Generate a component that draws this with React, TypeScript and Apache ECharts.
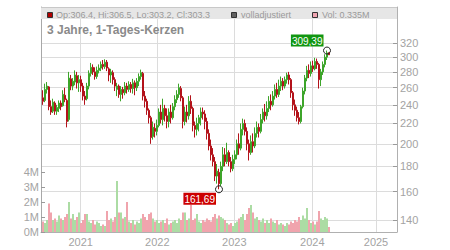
import React, { useEffect, useRef } from 'react';
import * as echarts from 'echarts';

// ---- data (one sampled daily candle every ~6 trading days) ----
const opens = [
  248, 245, 258, 261, 238, 233, 242, 233, 236, 242, 239, 251, 245, 224, 271, 262, 267, 275, 266,
  270, 262, 250, 247, 262, 278, 286, 280, 274, 282, 285, 290, 287, 293, 284, 276, 279, 270, 258, 262,
  252, 258, 254, 262, 258, 264, 259, 266, 260, 268, 274, 278, 250, 244, 234, 226, 207, 215, 212, 218,
  232, 224, 236, 228, 222, 232, 226, 238, 246, 252, 259, 248, 222, 232, 228, 244, 236, 218, 214,
  220, 226, 232, 230, 222, 210, 198, 190, 184, 172, 175, 166, 180, 190, 184, 192, 184, 178, 186, 190,
  200, 196, 214, 220, 212, 200, 192, 202, 198, 210, 216, 212, 224, 232,
  228, 236, 244, 240, 250, 258, 252, 262, 268, 262, 270, 276, 270, 254, 240, 234, 226, 222, 238, 256,
  272, 282, 278, 288, 284, 294, 290, 270, 280, 290, 300, 306.4,
];
const closes = [
  244, 258, 262, 238, 232, 243, 233, 237, 242, 238, 252, 246, 222, 272, 262, 268, 276, 266, 270,
  262, 250, 246, 262, 278, 286, 280, 274, 282, 285, 290, 287, 293, 285, 276, 280, 270, 262, 262, 252,
  258, 254, 262, 258, 264, 259, 266, 260, 268, 274, 279, 250, 244, 234, 226, 206, 216, 212, 218, 232,
  224, 236, 228, 222, 232, 226, 238, 246, 252, 260, 248, 222, 232, 228, 244, 236, 218, 214, 220,
  226, 232, 230, 222, 210, 198, 190, 184, 172, 176, 166, 180, 190, 184, 192, 184, 178, 186, 190, 200,
  196, 214, 220, 212, 200, 192, 202, 198, 210, 216, 212, 224, 232, 228,
  236, 244, 240, 250, 258, 252, 262, 268, 262, 270, 276, 270, 254, 240, 234, 226, 222, 238, 256, 272,
  282, 278, 288, 284, 294, 290, 270, 280, 290, 300, 306, 303.3,
];
const lows = [
  240, 243, 253, 234, 229, 231, 229, 229, 232, 234, 238, 243, 216, 222, 257, 257, 263, 259, 255,
  255, 245, 240, 245, 258, 274, 276, 270, 271, 278, 281, 283, 284, 281, 268, 266, 264, 256, 250, 248,
  244, 247, 251, 253, 255, 254, 253, 251, 256, 262, 270, 245, 237, 229, 220, 200, 204, 206, 208, 216,
  220, 218, 222, 215, 216, 220, 224, 234, 242, 248, 244, 215, 218, 221, 224, 230, 212, 206, 208,
  212, 218, 224, 214, 204, 194, 185, 180, 168, 166, 161.69, 164, 176, 180, 182, 180, 175, 176, 182, 186,
  190, 194, 208, 208, 194, 185, 190, 192, 196, 206, 206, 210, 220, 222,
  224, 232, 234, 238, 246, 248, 249, 256, 257, 259, 265, 264, 248, 234, 228, 222, 219, 220, 236, 252,
  268, 272, 274, 280, 282, 284, 259, 262, 276, 286, 296, 303.2,
];
const highs = [
  257, 265, 267, 262, 245, 247, 244, 240, 245, 245, 257, 260, 247, 280, 276, 272, 282, 280, 276,
  275, 266, 256, 266, 282, 292, 290, 286, 287, 290, 294, 296, 297, 296, 286, 284, 282, 273, 266, 264,
  262, 261, 267, 266, 268, 267, 271, 269, 272, 278, 283, 280, 256, 247, 236, 228, 222, 220, 224, 236,
  240, 247, 240, 236, 236, 240, 242, 251, 257, 265, 262, 250, 238, 240, 250, 251, 238, 222, 226,
  229, 237, 237, 234, 226, 214, 204, 196, 188, 182, 178, 184, 197, 196, 201, 194, 188, 190, 194, 204,
  210, 220, 225, 224, 216, 204, 208, 210, 216, 222, 220, 230, 236, 241,
  244, 250, 252, 256, 264, 266, 270, 274, 272, 274, 279, 280, 272, 256, 246, 238, 232, 240, 260, 276,
  288, 290, 294, 295, 299, 298, 292, 284, 294, 304, 309.39, 306.5,
];
// volume in millions
const volumes = [
  0.7, 0.6, 0.8, 1.9, 1.3, 0.8, 0.9, 0.7, 1.1, 0.9, 0.8, 1.0, 1.2, 2.0, 0.9, 1.2, 0.8, 1.0, 1.3,
  0.6, 0.8, 1.2, 1.2, 0.7, 0.6, 0.8, 0.5, 0.7, 0.6, 0.4, 0.5, 0.4, 1.4, 0.8, 0.9, 0.7, 1.0, 3.4, 1.3,
  1.3, 0.9, 1.0, 2.0, 0.7, 0.6, 0.8, 0.5, 0.7, 0.6, 0.9, 1.2, 1.0, 0.8, 1.2, 1.3, 0.9, 0.7, 0.8, 0.6,
  0.7, 0.8, 0.6, 0.9, 0.5, 0.6, 0.7, 0.8, 0.6, 0.9, 0.8, 1.3, 1.3, 0.8, 0.9, 1.8, 0.8, 0.9, 1.2,
  0.7, 0.6, 0.8, 0.7, 0.9, 0.8, 0.7, 1.0, 1.2, 0.9, 1.1, 1.0, 0.9, 0.8, 0.6, 0.5, 0.6, 0.4, 0.6, 0.7,
  0.9, 1.0, 1.2, 0.8, 1.2, 1.6, 1.8, 1.3, 0.9, 1.0, 0.8, 0.7, 0.9, 0.6,
  0.8, 0.6, 0.9, 0.7, 0.6, 0.8, 0.5, 0.6, 0.5, 0.4, 0.6, 0.5, 0.7, 0.6, 0.8, 0.7, 1.0, 0.8, 1.1, 0.9,
  1.6, 0.8, 0.6, 0.7, 0.5, 0.7, 1.4, 0.9, 0.8, 1.0, 0.9, 0.335,
];

const yearLabels = ['2021', '2022', '2023', '2024', '2025'];
const yearPositions = [18.85, 57.15, 95.65, 134.65, 166.5]; // in candle-index units
const priceTicks = [140, 160, 180, 200, 220, 240, 260, 280, 300, 320];
const volumeTicks = [0, 1, 2, 3, 4];
const priceRange = [132.4, 379.3];
const indexRange = [-1, 177];
const volumeMax = 15;
const chartTitle = '3 Jahre, 1-Tages-Kerzen';
const seriesNames = ['volladjustiert'];

const FONT = '"Liberation Sans", Arial, Helvetica, sans-serif';
const UP = '#3da52a';
const DOWN = '#b3121a';
const VOL_UP = '#acdca4';
const VOL_DOWN = '#f0a4ad';
const LABEL = '#a3a3a3';
const GRID = '#dcdcdc';

export default function App() {
  const ref = useRef<HTMLDivElement>(null);

  useEffect(() => {
    if (!ref.current) return;
    const chart = echarts.init(ref.current, undefined, { renderer: 'svg' });

    const last = opens.length - 1;
    let hiIdx = 0;
    let loIdx = 0;
    highs.forEach((h, i) => { if (h > highs[hiIdx]) hiIdx = i; });
    lows.forEach((l, i) => { if (l < lows[loIdx]) loIdx = i; });
    const fmtDe = (v: number) => v.toFixed(2).replace('.', ',');

    const candleData = opens.map((o, i) => [
      i, Math.log(o), Math.log(closes[i]), Math.log(lows[i]), Math.log(highs[i]),
    ]);
    const volData = volumes.map((v, i) => ({
      value: [i, v],
      itemStyle: { color: closes[i] >= opens[i] ? VOL_UP : VOL_DOWN },
    }));
    const priceTickLog = priceTicks.map((p) => Math.log(p));

    const legendText =
      `Op:${opens[last].toFixed(1)}, Hi:${highs[last].toFixed(1)}, Lo:${lows[last].toFixed(1)}, Cl:${closes[last].toFixed(1)}`;
    const volText = `Vol: ${volumes[last]}M`;

    const legendFont = { fontSize: 9, fontFamily: FONT, fill: '#9a9a9a', verticalAlign: 'middle' };

    chart.setOption({
      animation: false,
      textStyle: { fontFamily: FONT },
      grid: { left: 41, right: 53, top: 7, bottom: 18, containLabel: false, outerBoundsMode: 'none' },
      xAxis: {
        type: 'value',
        min: indexRange[0],
        max: indexRange[1],
        axisLine: { show: true, onZero: false, lineStyle: { color: '#b0b0b0' } },
        axisTick: { show: false, customValues: yearPositions },
        axisLabel: {
          customValues: yearPositions,
          formatter: (v: number) => {
            const k = yearPositions.findIndex((p) => Math.abs(p - v) < 0.01);
            return k >= 0 ? yearLabels[k] : '';
          },
          color: LABEL,
          fontSize: 11,
          fontFamily: FONT,
          margin: 4,
        },
        splitLine: { show: true, lineStyle: { color: GRID, width: 1 } },
      },
      yAxis: [
        {
          type: 'value',
          position: 'right',
          min: Math.log(priceRange[0]),
          max: Math.log(priceRange[1]),
          axisLine: { show: true, onZero: false, lineStyle: { color: '#b0b0b0' } },
          axisTick: { show: true, inside: true, length: 4, customValues: priceTickLog, lineStyle: { color: '#9a9a9a' } },
          axisLabel: {
            customValues: priceTickLog,
            formatter: (v: number) => String(Math.round(Math.exp(v))),
            color: LABEL,
            fontSize: 11,
            fontFamily: FONT,
            margin: 3,
          },
          splitLine: { show: true, lineStyle: { color: GRID, width: 1 } },
        },
        {
          type: 'value',
          position: 'left',
          min: 0,
          max: volumeMax,
          axisLine: { show: true, onZero: false, lineStyle: { color: '#a8a8a8' } },
          axisTick: { show: true, inside: true, length: 4, customValues: volumeTicks, lineStyle: { color: '#9a9a9a' } },
          axisLabel: {
            customValues: volumeTicks,
            formatter: (v: number) => `${v}M`,
            color: LABEL,
            fontSize: 11,
            fontFamily: FONT,
            margin: 2,
          },
          splitLine: { show: false },
        },
      ],
      series: [
        {
          type: 'bar',
          name: 'Vol',
          xAxisIndex: 0,
          yAxisIndex: 1,
          data: volData,
          barWidth: 2,
          z: 1,
          silent: true,
        },
        {
          type: 'candlestick',
          name: seriesNames[0],
          xAxisIndex: 0,
          yAxisIndex: 0,
          data: candleData,
          encode: { x: 0, y: [1, 2, 3, 4] },
          barWidth: 1.6,
          z: 3,
          itemStyle: {
            color: UP,
            color0: DOWN,
            borderColor: UP,
            borderColor0: DOWN,
            borderWidth: 1,
          },
          markPoint: {
            symbol: 'circle',
            symbolSize: 7,
            silent: true,
            itemStyle: { color: 'rgba(255,255,255,0)', borderColor: '#222', borderWidth: 1 },
            label: {
              show: true,
              formatter: (p: any) => fmtDe(p.value),
              color: '#ffffff',
              fontSize: 10,
              fontFamily: FONT,
              padding: [1, 1, 0, 1],
              lineHeight: 11,
            },
            data: [
              {
                coord: [hiIdx, Math.log(highs[hiIdx])],
                value: highs[hiIdx],
                label: { position: [0.5, 0], align: 'right', verticalAlign: 'bottom', backgroundColor: '#119611' },
              },
              {
                coord: [loIdx, Math.log(lows[loIdx])],
                value: lows[loIdx],
                label: { position: [1, 7.5], align: 'right', verticalAlign: 'top', backgroundColor: '#cc0000' },
              },
            ],
          },
        },
      ],
      graphic: [
        { type: 'rect', z: 100, shape: { x: 41, y: 7, width: 356, height: 12 }, style: { fill: '#e6e6e6' } },
        { type: 'line', z: 101, shape: { x1: 41, y1: 7.5, x2: 397, y2: 7.5 }, style: { stroke: '#c8c8c8', lineWidth: 1 } },
        { type: 'rect', z: 102, shape: { x: 47.5, y: 12.5, width: 5, height: 5 }, style: { fill: '#b00000', stroke: '#333', lineWidth: 1 } },
        { type: 'text', z: 102, x: 56, y: 14.5, style: { text: legendText, ...legendFont } },
        { type: 'rect', z: 102, shape: { x: 231.5, y: 12.5, width: 5, height: 5 }, style: { fill: '#606060', stroke: '#333', lineWidth: 1 } },
        { type: 'text', z: 102, x: 241, y: 14.5, style: { text: seriesNames[0], ...legendFont } },
        { type: 'rect', z: 102, shape: { x: 312.5, y: 12.5, width: 5, height: 5 }, style: { fill: '#f0a4b0', stroke: '#333', lineWidth: 1 } },
        { type: 'text', z: 102, x: 322, y: 14.5, style: { text: volText, ...legendFont } },
        {
          type: 'text', z: 102, x: 47, y: 30,
          style: { text: chartTitle, fontSize: 12, fontWeight: 'bold', fontFamily: FONT, fill: '#8a8a8a', verticalAlign: 'middle' },
        },
      ],
    });

    return () => chart.dispose();
  }, []);

  return (
    <div
      ref={ref}
      style={{ position: 'fixed', left: 0, top: 0, width: 450, height: 250, background: '#fff' }}
    />
  );
}
